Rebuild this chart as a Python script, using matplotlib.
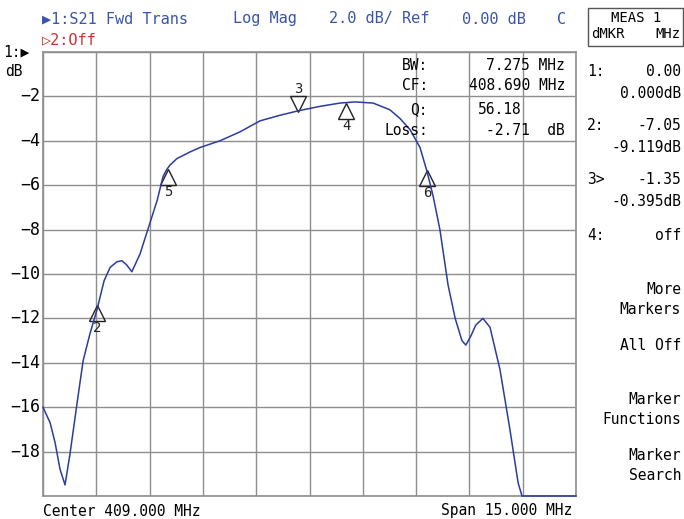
import numpy as np
import matplotlib
matplotlib.use('Agg')
import matplotlib.pyplot as plt

plt.rcParams['font.family'] = ['DejaVu Sans Mono', 'DejaVu Sans']

# trace (MHz, dB)
freq = [401.50, 401.70, 401.84, 401.98, 402.12, 402.26, 402.46, 402.63, 402.82,
        403.02, 403.22, 403.39, 403.58, 403.72, 403.86, 404.00, 404.23, 404.45,
        404.71, 404.88, 404.98, 405.07, 405.27, 405.64, 405.92, 406.48, 407.04,
        407.61, 408.17, 408.68, 409.29, 409.86, 410.28, 410.79, 411.26, 411.55,
        411.83, 412.11, 412.31, 412.48, 412.67, 412.90, 413.10, 413.29, 413.40,
        413.54, 413.68, 413.88, 414.08, 414.36, 414.64, 414.87, 414.98, 416.50]
mag = [-16.0, -16.7, -17.6, -18.8, -19.5, -18.1, -15.8, -13.9, -12.7,
       -11.6, -10.3, -9.7, -9.45, -9.4, -9.6, -9.9, -9.1, -8.0,
       -6.7, -5.6, -5.3, -5.1, -4.8, -4.5, -4.3, -4.0, -3.6,
       -3.1, -2.85, -2.65, -2.45, -2.3, -2.25, -2.3, -2.6, -3.0,
       -3.5, -4.3, -5.4, -6.5, -8.0, -10.5, -12.0, -13.0, -13.2,
       -12.8, -12.3, -12.0, -12.4, -14.3, -17.0, -19.4, -20.0, -20.0]

# markers: number, freq, dB, pointing up?
mk_num = ['2', '5', '3', '4', '6']
mk_freq = [403.02, 405.02, 408.68, 410.03, 412.31]
mk_db = [-11.76, -5.63, -2.34, -2.66, -5.68]
mk_up = [True, True, False, True, True]

yticks = [-2, -4, -6, -8, -10, -12, -14, -16, -18]

center = 409.0
span = 15.0

W, H = 684, 519
blue = '#3a55a8'
trace = '#2b3d9c'
grid = '#8e8e8e'


def px(x, y):
    return x / W, 1 - y / H


fig = plt.figure(figsize=(W / 100, H / 100), dpi=100)
ax = fig.add_axes([43 / W, 1 - 496 / H, 533 / W, 444 / H])

f0 = center - span / 2
ax.set_xlim(f0, f0 + span)
ax.set_ylim(-20, 0)
ax.set_xticks(np.linspace(f0, f0 + span, 11))
ax.set_yticks(np.arange(-20, 1, 2))
ax.grid(True, color=grid, lw=1.0)
ax.tick_params(length=0, labelbottom=False, labelleft=False)
for s in ax.spines.values():
    s.set_color(grid)
    s.set_linewidth(1.2)

ax.plot(freq, mag, color=trace, lw=1.1, clip_on=False, zorder=5)

for n, f, d, up in zip(mk_num, mk_freq, mk_db, mk_up):
    ax.plot(f, d, marker='^' if up else 'v', ms=11.5, mfc='none', mec='#222222',
            mew=1.0, zorder=4)
    off = -11 if up else 11
    ax.annotate(n, (f, d), xytext=(0, off), textcoords='offset points',
                ha='center', va='center', fontsize=10, color='#222222')

for t in yticks:
    ax.text(-0.006, (t + 20) / 20, str(t).replace('-', '\u2212'),
            transform=ax.transAxes, ha='right', va='center', fontsize=12)

# header lines
fig.text(*px(42, 19), '\u25b61:S21 Fwd Trans', color=blue, fontsize=11, va='center')
fig.text(*px(233, 19), 'Log Mag', color=blue, fontsize=11, va='center')
fig.text(*px(329, 19), '2.0 dB/ Ref', color=blue, fontsize=11, va='center')
fig.text(*px(462, 19), '0.00 dB', color=blue, fontsize=11, va='center')
fig.text(*px(557, 19), 'C', color=blue, fontsize=11, va='center')
fig.text(*px(42, 40), '\u25b72:Off', color='#cc3333', fontsize=11, va='center')
fig.text(*px(3, 52), '1:\u25b6', color='black', fontsize=10.5, va='center')
fig.text(*px(5, 71), 'dB', color='black', fontsize=10.5, va='center')

# bottom
fig.text(*px(43, 511), 'Center 409.000 MHz', fontsize=10.5, va='center')
fig.text(*px(572, 511), 'Span 15.000 MHz', fontsize=10.5, va='center', ha='right')

# bandwidth readout
fig.text(*px(428, 65), 'BW:', fontsize=10.5, va='center', ha='right')
fig.text(*px(565, 65), '7.275 MHz', fontsize=10.5, va='center', ha='right')
fig.text(*px(428, 86), 'CF:', fontsize=10.5, va='center', ha='right')
fig.text(*px(565, 86), '408.690 MHz', fontsize=10.5, va='center', ha='right')
fig.text(*px(428, 110), 'Q:', fontsize=10.5, va='center', ha='right')
fig.text(*px(478, 110), '56.18', fontsize=10.5, va='center')
fig.text(*px(428, 130), 'Loss:', fontsize=10.5, va='center', ha='right')
fig.text(*px(565, 130), '-2.71  dB', fontsize=10.5, va='center', ha='right')

# right soft-key panel
fig.patches.append(plt.Rectangle(px(588, 46), 95 / W, 38 / H, transform=fig.transFigure,
                                 fill=False, ec='#555555', lw=1.0))
fig.text(*px(636, 18), 'MEAS 1', fontsize=10, va='center', ha='center')
fig.text(*px(591, 34), 'dMKR', fontsize=10, va='center')
fig.text(*px(680, 34), 'MHz', fontsize=10, va='center', ha='right')

panel = [('1:', '0.00', 72), ('2:', '-7.05', 126), ('3>', '-1.35', 180), ('4:', 'off', 236)]
for lab, val, y in panel:
    fig.text(*px(587, y), lab, fontsize=10.5, va='center')
    fig.text(*px(681, y), val, fontsize=10.5, va='center', ha='right')
for val, y in [('0.000dB', 94), ('-9.119dB', 148), ('-0.395dB', 202)]:
    fig.text(*px(681, y), val, fontsize=10.5, va='center', ha='right')
for lab, y in [('More', 290), ('Markers', 310), ('All Off', 346), ('Marker', 400),
               ('Functions', 420), ('Marker', 456), ('Search', 476)]:
    fig.text(*px(681, y), lab, fontsize=10.5, va='center', ha='right')

fig.savefig('out.png', dpi=100)
